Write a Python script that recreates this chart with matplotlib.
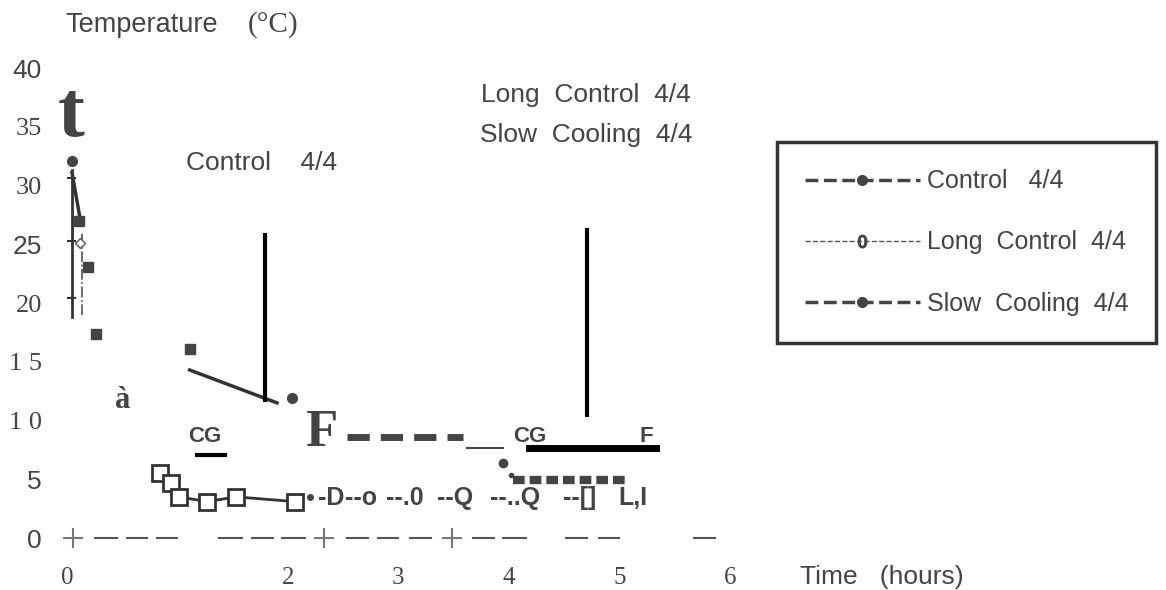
import matplotlib
matplotlib.use("Agg")
import matplotlib.pyplot as plt
from matplotlib.lines import Line2D

SANS = "Liberation Sans"
SERIF = "Liberation Serif"
INK = "#444444"

# ---- datos ----
x_ticks = [0, 2, 3, 4, 5, 6]
x_labels = ["0", "2", "3", "4", "5", "6"]
y_ticks = [0, 5, 10, 15, 20, 25, 30, 35, 40]
y_labels = ["0", "5", "1 0", "1 5", "20", "25", "30", "35", "40"]
y_label_fonts = [SANS, SANS, SERIF, SERIF, SERIF, SANS, SERIF, SERIF, SANS]

# Control 4/4
ctrl_sq_t = [0.11, 0.19, 0.26, 1.11]
ctrl_sq_T = [27.0, 23.1, 17.4, 16.1]
ctrl_dot_t = [0.045, 2.04]
ctrl_dot_T = [32.1, 11.9]
ctrl_drop_t = [0.045, 0.12]
ctrl_drop_T = [31.1, 27.1]
ctrl_line_t = [1.11, 1.90]
ctrl_line_T = [14.3, 11.5]
ctrl_hold_t = [2.53, 3.58]
ctrl_hold_T = [8.6, 8.6]
ctrl_end_t = [3.62, 3.95]
ctrl_end_T = [7.66, 7.66]
cg_bar_t = [4.18, 5.33]
cg_bar_T = [7.66, 7.66]
cg_left_t = [1.18, 1.43]
cg_left_T = [7.1, 7.1]

# Long Control 4/4
lc_t = [0.84, 0.94, 1.01, 1.27, 1.53, 2.06]
lc_T = [5.5, 4.7, 3.5, 3.1, 3.5, 3.1]
lc_tail = ["-D", "--o", "--.0", "--Q", "--..Q", "--[]", "L,I"]
lc_tail_t = [2.27, 2.52, 2.89, 3.35, 3.83, 4.49, 4.99]
lc_tail_T = 3.4

# Slow Cooling 4/4
sc_dot_t = [3.95, 4.02]
sc_dot_T = [6.4, 5.4]
sc_t = [4.04, 5.05]
sc_T = [4.9, 4.9]

# líneas verticales de marcas
vl_t = [1.79, 4.71]
vl_top = [26.0, 26.4]
vl_bot = [11.6, 10.3]

# eje vertical cerca de t=0
yaxis_t = 0.045
yaxis_T = [18.8, 31.3]
yaxis_ticks = [20.4, 25.3, 30.6]

# eje x (trozos de guiones y cruces)
xdash = [(0.25, 0.45), (0.54, 0.72), (0.81, 1.0), (1.38, 1.58), (1.67, 1.86),
         (1.95, 2.15), (2.53, 2.72), (2.81, 3.0), (3.10, 3.29), (3.67, 3.86),
         (3.95, 4.15), (4.52, 4.71), (4.81, 5.0), (5.67, 5.86)]
xplus = [0.05, 2.33, 3.48]

fig = plt.figure(figsize=(11.66, 5.9), dpi=100)
ax = fig.add_axes([67 / 1166, 52 / 590, 663 / 1166, 470 / 590])
ax.set_xlim(0, 6)
ax.set_ylim(0, 40)
for s in ax.spines.values():
    s.set_visible(False)
ax.tick_params(length=0, colors=INK)
ax.set_xticks(x_ticks)
ax.set_xticklabels(x_labels, fontsize=18, family=SERIF, color=INK)
ax.tick_params(axis="x", pad=21)
ax.set_yticks(y_ticks)
ax.set_yticklabels(y_labels, fontsize=19, color=INK)
ax.tick_params(axis="y", pad=18)
for lab, fam in zip(ax.get_yticklabels(), y_label_fonts):
    lab.set_family(fam)

# eje x dibujado con guiones
for a, b in xdash:
    ax.plot([a, b], [0, 0], color="#555555", lw=1.5, clip_on=False)
ax.plot(xplus, [0] * len(xplus), "+", color="#777777", ms=14, mew=1.5, clip_on=False)

# eje y pequeño
ax.plot([yaxis_t, yaxis_t], yaxis_T, color="#333333", lw=2)
for yt in yaxis_ticks:
    ax.plot([yaxis_t - 0.09, yaxis_t + 0.03], [yt, yt], color="#333333", lw=1.5)
ax.plot([0.14, 0.14], [19.0, 26.0], color="#555555", lw=1.2, ls="-.")

# Control
ax.plot(ctrl_drop_t, ctrl_drop_T, color="#333333", lw=2.5)
ax.plot(ctrl_sq_t, ctrl_sq_T, "s", color="#444444", ms=7, ls="none")
ax.plot(ctrl_dot_t, ctrl_dot_T, "o", color="#444444", ms=7, ls="none")
ax.plot([0.12], [25.1], "D", mfc="white", mec="#555555", ms=5)
ax.plot(ctrl_line_t, ctrl_line_T, color="#333333", lw=2.5)
ax.plot(ctrl_hold_t, ctrl_hold_T, color="#444444", lw=5, dashes=(3.2, 1.6))
ax.plot(ctrl_end_t, ctrl_end_T, color="#444444", lw=1.5)
ax.plot(cg_bar_t, cg_bar_T, color="black", lw=5)
ax.plot(cg_left_t, cg_left_T, color="black", lw=3)
ax.text(2.30, 8.9, "F", fontsize=38, family=SERIF, fontweight="bold", color=INK,
        ha="center", va="center")
ax.text(1.25, 8.6, "CG", fontsize=16, family=SANS, fontweight="bold", color=INK,
        ha="center", va="center")
ax.text(4.19, 8.6, "CG", fontsize=16, family=SANS, fontweight="bold", color=INK,
        ha="center", va="center")
ax.text(5.24, 8.6, "F", fontsize=16, family=SANS, fontweight="bold", color=INK,
        ha="center", va="center")

# Long Control
ax.plot(lc_t, lc_T, color="#333333", lw=2, marker="s", ms=11, mfc="white",
        mec="#333333", mew=2)
ax.plot([2.2], [3.5], "o", color="#444444", ms=4)
for tok, tt in zip(lc_tail, lc_tail_t):
    ax.text(tt, lc_tail_T, tok, fontsize=18, family=SANS, fontweight="bold",
            color=INK, ha="left", va="center")

# Slow Cooling
ax.plot(sc_dot_t[:1], sc_dot_T[:1], "o", color="#444444", ms=6)
ax.plot(sc_dot_t[1:], sc_dot_T[1:], "o", color="#444444", ms=3)
ax.plot(sc_t, sc_T, color="#444444", lw=6, dashes=(1.4, 0.6))

# líneas verticales y anotaciones
ax.vlines(vl_t, vl_bot, vl_top, color="black", lw=3)
ax.text(1.76, 31.9, "Control    4/4", fontsize=19, family=SANS, color=INK,
        ha="center", va="center", clip_on=False)
ax.text(4.70, 37.7, "Long  Control  4/4", fontsize=19, family=SANS, color=INK,
        ha="center", va="center", clip_on=False)
ax.text(4.70, 34.3, "Slow  Cooling  4/4", fontsize=19, family=SANS, color=INK,
        ha="center", va="center", clip_on=False)
ax.text(0.04, 35.9, "t", fontsize=58, family=SERIF, fontweight="bold", color=INK,
        ha="center", va="center")
ax.text(0.5, 11.7, "à", fontsize=22, family=SERIF, fontweight="bold", color=INK,
        ha="center", va="center")

# títulos de ejes
fig.text(65 / 1166, 1 - 25 / 590, "Temperature", fontsize=19.5, family=SANS,
         color=INK, va="center")
fig.text(248 / 1166, 1 - 25 / 590, "(°C)", fontsize=21, family=SERIF,
         color=INK, va="center")
fig.text(800 / 1166, 1 - 577 / 590, "Time   (hours)", fontsize=19, family=SANS,
         color=INK, va="center")

# leyenda
handles = [
    Line2D([], [], color="#444444", lw=2.5, ls="--", marker="o", ms=7),
    Line2D([], [], color="#555555", lw=1, ls="--", marker="$0$", ms=9,
           mec="#444444"),
    Line2D([], [], color="#444444", lw=2.5, ls="--", marker="o", ms=7),
]
labels = ["Control   4/4", "Long  Control  4/4", "Slow  Cooling  4/4"]
leg = fig.legend(handles, labels, loc="upper left",
                 bbox_to_anchor=(777 / 1166, 1 - 142 / 590),
                 bbox_transform=fig.transFigure, borderaxespad=0,
                 numpoints=1, handlelength=4.6, handletextpad=0.3,
                 labelspacing=1.48, borderpad=1.1, fancybox=False,
                 prop={"family": SANS, "size": 18})
leg.get_frame().set_edgecolor("black")
leg.get_frame().set_linewidth(2.5)
for t in leg.get_texts():
    t.set_color(INK)

fig.savefig("out.png", dpi=100)
